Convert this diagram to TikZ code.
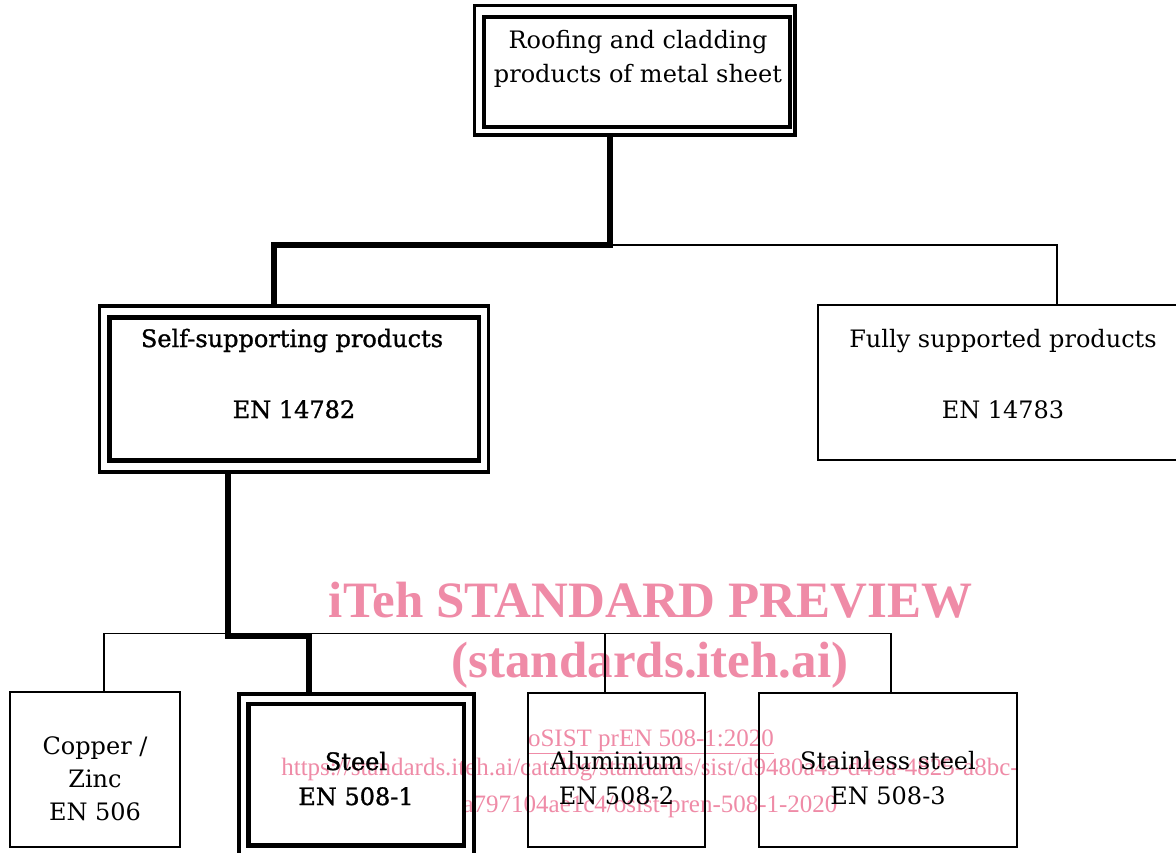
\documentclass[tikz,border=0pt]{standalone}
\usepackage{fontspec}
\newfontfamily\dv{DejaVu Serif}
\newfontfamily\dvb[FakeBold=1.2]{DejaVu Serif}
\newfontfamily\lib{Liberation Serif}
\definecolor{wmpink}{RGB}{239,139,167}
\begin{document}
\begin{tikzpicture}[x=1pt,y=-1pt,
  thinbox/.style={draw,line width=1.5pt,inner sep=0pt},
  outerbox/.style={draw,line width=3.5pt,inner sep=0pt},
  innerbox/.style={draw,line width=4.5pt,inner sep=0pt},
  thickline/.style={line width=5.5pt},
  thinline/.style={line width=1.5pt},
  lbl/.style={anchor=base,inner sep=0pt,font=\dv\fontsize{24}{29}\selectfont},
  blbl/.style={anchor=base,inner sep=0pt,font=\dvb\fontsize{24}{29}\selectfont},
  wmbig/.style={anchor=base,inner sep=0pt,text=wmpink,font=\lib\bfseries\fontsize{51}{60}\selectfont},
  wmsmall/.style={anchor=base,inner sep=0pt,text=wmpink,font=\lib\fontsize{25}{30}\selectfont}]
\clip (0,0) rectangle (1176,852);
\fill[white] (0,0) rectangle (1176,852);
% watermark
\node[wmbig] (wm1) at (650.5,617) {iTeh STANDARD PREVIEW};
\node[wmbig] (wm2) at (650,677) {(standards.iteh.ai)};
\node[wmsmall] (wm3) at (651,746) {\underline{oSIST prEN 508-1:2020}};
\node[wmsmall] (wm4) at (650,775) {https://standards.iteh.ai/catalog/standards/sist/d9480a45-d45a-4825-a8bc-};
\node[wmsmall] (wm5) at (650,812) {a797104ae1c4/osist-pren-508-1-2020};
% boxes
\node[outerbox,minimum width=320.5pt,minimum height=129.5pt] (top) at (634.75,70.25) {};
\node[innerbox,minimum width=306pt,minimum height=110pt] (topin) at (637,72) {};
\node[outerbox,minimum width=389pt,minimum height=166pt] (self) at (294,389) {};
\node[innerbox,minimum width=369.5pt,minimum height=143pt] (selfin) at (294.25,389) {};
\node[thinbox,minimum width=372pt,minimum height=155pt] (fully) at (1004,382.5) {};
\node[thinbox,minimum width=170pt,minimum height=155pt] (copper) at (95,769.5) {};
\node[outerbox,minimum width=235pt,minimum height=176pt] (steel) at (356.5,782) {};
\node[innerbox,minimum width=215.5pt,minimum height=141.5pt] (steelin) at (356.25,774.75) {};
\node[thinbox,minimum width=177pt,minimum height=154pt] (alu) at (616.5,770) {};
\node[thinbox,minimum width=258pt,minimum height=154pt] (stainless) at (888,770) {};
% junctions
\coordinate (j1) at (610,245);
\coordinate (j2) at (274,245);
\coordinate (j3) at (1057,245);
\coordinate (k1) at (228,636);
\coordinate (k2) at (309,636);
\coordinate (b0) at (104,633.5);
\coordinate (b1) at (891,633.5);
\coordinate (b2) at (605,633.5);
% connectors
\draw[thinline] (j1) -- (j3) -- (j3 |- fully.north);
\draw[thickline] (top.south -| j1) -- (j1) -- (j2) -- (j2 |- self.north);
\draw[thinline] (copper.north -| b0) -- (b0) -- (b1) -- (b1 |- stainless.north);
\draw[thinline] (b2) -- (b2 |- alu.north);
\draw[thickline] (self.south -| k1) -- (k1) -- (k2) -- (k2 |- steel.north);
% labels
\node[lbl] (t1) at (638,48) {Roofing and cladding};
\node[lbl] (t2) at (638,82) {products of metal sheet};
\node[blbl] (s1) at (292,347) {Self-supporting products};
\node[blbl] (s2) at (294,418) {EN 14782};
\node[lbl] (f1) at (1003,347) {Fully supported products};
\node[lbl] (f2) at (1003,418) {EN 14783};
\node[lbl] (c1) at (95,754) {Copper /};
\node[lbl] (c2) at (95,787) {Zinc};
\node[lbl] (c3) at (95,820) {EN 506};
\node[blbl] (st1) at (356,770) {Steel};
\node[blbl] (st2) at (356,805) {EN 508-1};
\node[lbl] (a1) at (616.5,769) {Aluminium};
\node[lbl] (a2) at (616.5,804) {EN 508-2};
\node[lbl] (ss1) at (888,769) {Stainless steel};
\node[lbl] (ss2) at (888,804) {EN 508-3};
\end{tikzpicture}
\end{document}
